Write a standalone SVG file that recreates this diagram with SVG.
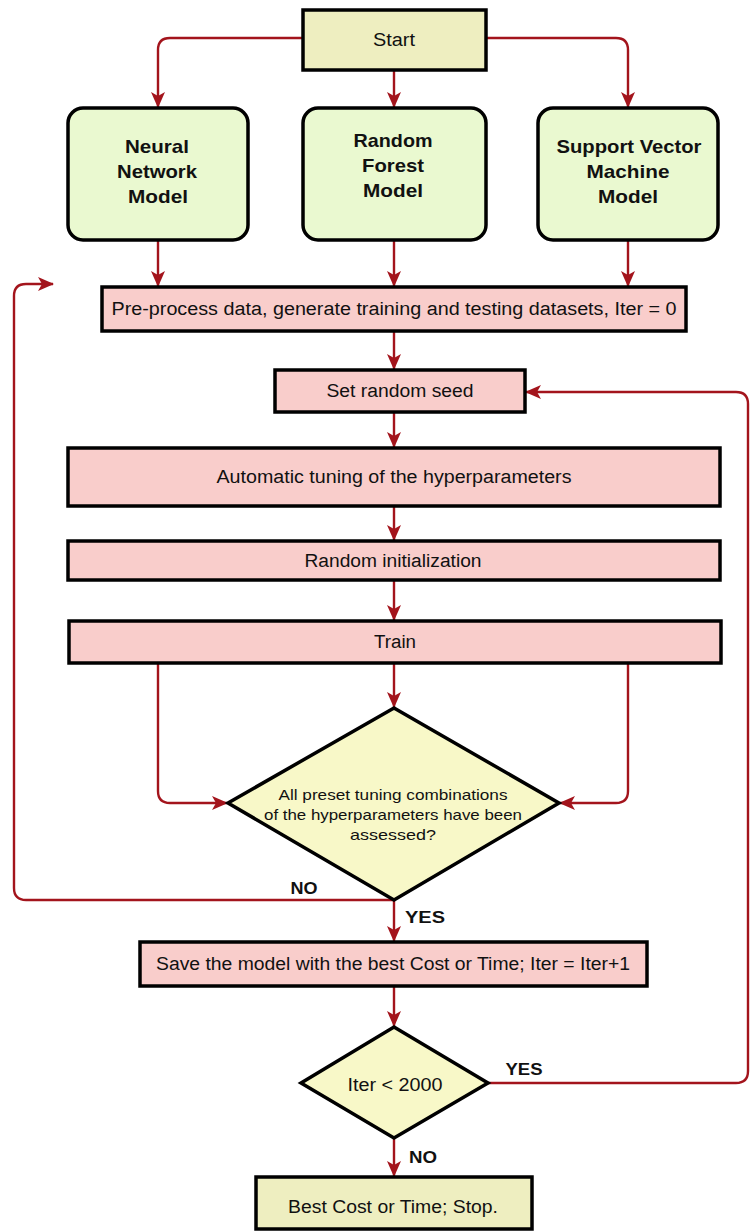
<svg xmlns="http://www.w3.org/2000/svg" width="751" height="1232" viewBox="0 0 751 1232">
<style>
.box{stroke:#000;stroke-width:3.5}
.khaki{fill:#EEEEC0}
.green{fill:#EAF9D0}
.pink{fill:#F9CDCB}
.dia{fill:#F8F8C8;stroke:#000;stroke-width:3.5;stroke-linejoin:miter}
.t{font-family:"Liberation Sans",Arial,sans-serif;font-size:18px;fill:#111;text-anchor:middle}
.b{font-family:"Liberation Sans",Arial,sans-serif;font-size:19px;font-weight:bold;fill:#111;text-anchor:middle}
.s{font-family:"Liberation Sans",Arial,sans-serif;font-size:15px;fill:#111;text-anchor:middle}
.l{font-family:"Liberation Sans",Arial,sans-serif;font-size:16px;font-weight:bold;fill:#111;text-anchor:middle}
.c{fill:none;stroke:#A3141C;stroke-width:2.4}
</style>
<defs>
<marker id="arr" markerUnits="userSpaceOnUse" markerWidth="16" markerHeight="14" refX="15" refY="7" orient="auto">
<path d="M0,0 L16,7 L0,14 L4,7 z" fill="#A3141C"/>
</marker>
</defs>
<rect width="751" height="1232" fill="#fff"/>
<g id="connectors">
<path class="c" marker-end="url(#arr)" d="M303,38 H170 Q158,38 158,50 V107"/>
<path class="c" marker-end="url(#arr)" d="M394,70 V107"/>
<path class="c" marker-end="url(#arr)" d="M486,38 H616 Q628,38 628,50 V107"/>
<path class="c" marker-end="url(#arr)" d="M158,240 V286"/>
<path class="c" marker-end="url(#arr)" d="M394,240 V286"/>
<path class="c" marker-end="url(#arr)" d="M628,240 V286"/>
<path class="c" marker-end="url(#arr)" d="M394,331 V369"/>
<path class="c" marker-end="url(#arr)" d="M394,412 V447"/>
<path class="c" marker-end="url(#arr)" d="M394,506 V540"/>
<path class="c" marker-end="url(#arr)" d="M394,580 V620"/>
<path class="c" marker-end="url(#arr)" d="M394,663 V707"/>
<path class="c" marker-end="url(#arr)" d="M158,663 V791 Q158,803 170,803 H227"/>
<path class="c" marker-end="url(#arr)" d="M628,663 V791 Q628,803 616,803 H560"/>
<path class="c" marker-end="url(#arr)" d="M394,900 H26 Q14,900 14,888 V296 Q14,284 26,284 H53"/>
<path class="c" marker-end="url(#arr)" d="M394,900 V941"/>
<path class="c" marker-end="url(#arr)" d="M394,986 V1026"/>
<path class="c" marker-end="url(#arr)" d="M488,1083 H736 Q748,1083 748,1071 V404 Q748,392 736,392 H526"/>
<path class="c" marker-end="url(#arr)" d="M394,1138 V1176"/>
<text class="l" x="304" y="894" textLength="27" lengthAdjust="spacingAndGlyphs">NO</text>
<text class="l" x="425" y="923" textLength="40" lengthAdjust="spacingAndGlyphs">YES</text>
<text class="l" x="524" y="1075" textLength="37" lengthAdjust="spacingAndGlyphs">YES</text>
<text class="l" x="423" y="1163" textLength="28" lengthAdjust="spacingAndGlyphs">NO</text>
</g>
<g id="start">
<rect class="box khaki" x="303" y="10" width="183" height="60"/>
<text class="t" x="394" y="46" textLength="42" lengthAdjust="spacingAndGlyphs">Start</text>
</g>
<g id="nn">
<rect class="box green" x="68" y="108" width="180" height="132" rx="15"/>
<text class="b" x="157" y="153" textLength="64" lengthAdjust="spacingAndGlyphs">Neural</text>
<text class="b" x="157" y="178" textLength="80" lengthAdjust="spacingAndGlyphs">Network</text>
<text class="b" x="158" y="203" textLength="60" lengthAdjust="spacingAndGlyphs">Model</text>
</g>
<g id="rf">
<rect class="box green" x="303" y="108" width="183" height="132" rx="15"/>
<text class="b" x="393" y="147" textLength="79" lengthAdjust="spacingAndGlyphs">Random</text>
<text class="b" x="393" y="172" textLength="62" lengthAdjust="spacingAndGlyphs">Forest</text>
<text class="b" x="393" y="197" textLength="60" lengthAdjust="spacingAndGlyphs">Model</text>
</g>
<g id="svm">
<rect class="box green" x="538" y="108" width="180" height="132" rx="15"/>
<text class="b" x="629" y="153" textLength="145" lengthAdjust="spacingAndGlyphs">Support Vector</text>
<text class="b" x="628" y="178" textLength="83" lengthAdjust="spacingAndGlyphs">Machine</text>
<text class="b" x="628" y="203" textLength="60" lengthAdjust="spacingAndGlyphs">Model</text>
</g>
<g id="preprocess">
<rect class="box pink" x="102" y="287" width="584" height="44"/>
<text class="t" x="394" y="315" textLength="565" lengthAdjust="spacingAndGlyphs">Pre-process data, generate training and testing datasets, Iter = 0</text>
</g>
<g id="seed">
<rect class="box pink" x="275" y="370" width="250" height="42"/>
<text class="t" x="400" y="397" textLength="147" lengthAdjust="spacingAndGlyphs">Set random seed</text>
</g>
<g id="tuning">
<rect class="box pink" x="68" y="448" width="652" height="58"/>
<text class="t" x="394" y="483" textLength="355" lengthAdjust="spacingAndGlyphs">Automatic tuning of the hyperparameters</text>
</g>
<g id="init">
<rect class="box pink" x="68" y="541" width="652" height="39"/>
<text class="t" x="393" y="567" textLength="177" lengthAdjust="spacingAndGlyphs">Random initialization</text>
</g>
<g id="train">
<rect class="box pink" x="69" y="621" width="652" height="42"/>
<text class="t" x="395" y="648" textLength="42" lengthAdjust="spacingAndGlyphs">Train</text>
</g>
<g id="decision1">
<polygon class="dia" points="394,708 559,803 394,900 228,803"/>
<text class="s" x="393" y="800" textLength="229" lengthAdjust="spacingAndGlyphs">All preset tuning combinations</text>
<text class="s" x="393" y="820" textLength="258" lengthAdjust="spacingAndGlyphs">of the hyperparameters have been</text>
<text class="s" x="393" y="840" textLength="86" lengthAdjust="spacingAndGlyphs">assessed?</text>
</g>
<g id="save">
<rect class="box pink" x="140" y="942" width="507" height="44"/>
<text class="t" x="393" y="970" textLength="474" lengthAdjust="spacingAndGlyphs">Save the model with the best Cost or Time; Iter = Iter+1</text>
</g>
<g id="decision2">
<polygon class="dia" points="394,1027 488,1083 394,1138 301,1083"/>
<text class="t" x="395" y="1091" textLength="95" lengthAdjust="spacingAndGlyphs">Iter &lt; 2000</text>
</g>
<g id="stop">
<rect class="box khaki" x="256" y="1177" width="276" height="52"/>
<text class="t" x="393" y="1213" textLength="210" lengthAdjust="spacingAndGlyphs">Best Cost or Time; Stop.</text>
</g>
</svg>
